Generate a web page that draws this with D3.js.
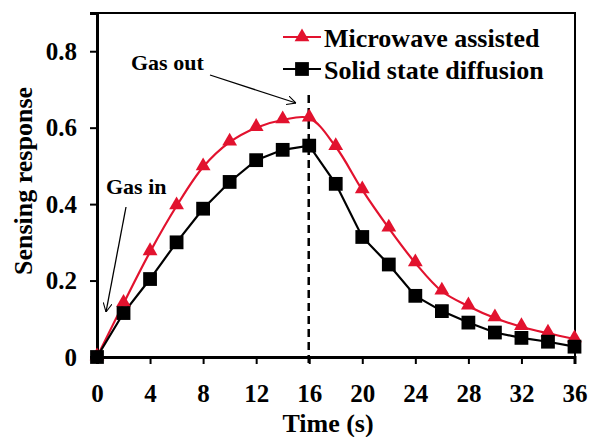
<!DOCTYPE html>
<html>
<head>
<meta charset="utf-8">
<script src="https://cdn.jsdelivr.net/npm/d3@7"></script>
<style>
  body { margin: 0; background: #fff; }
  #chart { width: 590px; height: 437px; }
  text { font-family: 'Liberation Serif', 'Times New Roman', serif; font-weight: bold; }
</style>
</head>
<body>
<div id="chart"></div>
<script>
const times = [0, 2, 4, 6, 8, 10, 12, 14, 16, 18, 20, 22, 24, 26, 28, 30, 32, 34, 36]
const microwave = [0, 0.14, 0.275, 0.395, 0.497, 0.562, 0.6, 0.62, 0.625, 0.55, 0.437, 0.337, 0.246, 0.172, 0.133, 0.102, 0.079, 0.062, 0.047]
const solidState = [0, 0.115, 0.204, 0.3, 0.388, 0.458, 0.515, 0.542, 0.553, 0.453, 0.314, 0.242, 0.16, 0.12, 0.09, 0.064, 0.05, 0.04, 0.027]
const xTicks = [0, 4, 8, 12, 16, 20, 24, 28, 32, 36]
const yTicks = [0, 0.2, 0.4, 0.6, 0.8]
const seriesNames = ['Microwave assisted', 'Solid state diffusion']
const gasOutTime = 16

const width = 590
const height = 437
const margin = { top: 13, right: 15, bottom: 80, left: 97 }
const boundWidth = width - margin.left - margin.right
const boundHeight = height - margin.top - margin.bottom
const red = '#e2122e'

const svg = d3.select('#chart')
  .append('svg')
  .attr('width', width)
  .attr('height', height)
  .attr('viewBox', [0, 0, width, height])

const defs = svg.append('defs')
defs.append('marker')
  .attr('id', 'arrow')
  .attr('viewBox', '0 0 10 10')
  .attr('refX', 10)
  .attr('refY', 5)
  .attr('markerWidth', 9)
  .attr('markerHeight', 9)
  .attr('markerUnits', 'userSpaceOnUse')
  .attr('orient', 'auto')
  .append('path')
  .attr('d', 'M0,0 L10,5 L0,10')
  .attr('fill', 'none')
  .attr('stroke', 'black')
  .attr('stroke-width', 1.2)

const bounds = svg.append('g')
  .attr('transform', `translate(${margin.left}, ${margin.top})`)

const x = d3.scaleLinear().domain([0, 36]).range([0, boundWidth - 0.5])
const y = d3.scaleLinear().domain([0, 0.9]).range([boundHeight, 0])

// frame
bounds.append('rect')
  .attr('width', boundWidth)
  .attr('height', boundHeight)
  .attr('fill', 'none')
  .attr('stroke', 'black')
  .attr('stroke-width', 2)

// axes
const xAxis = bounds.append('g')
  .attr('transform', `translate(0, ${boundHeight})`)
  .call(d3.axisBottom(x).tickValues(xTicks).tickSize(7).tickPadding(20).tickFormat(d3.format('d')))
xAxis.select('.domain').attr('stroke-width', 3)
xAxis.selectAll('.tick line').attr('stroke-width', 2)
xAxis.selectAll('.tick text').attr('font-size', 25).attr('fill', 'black')

const yAxis = bounds.append('g')
  .call(d3.axisLeft(y).tickValues(yTicks).tickSize(7).tickPadding(13).tickFormat(d => d === 0 ? '0' : d3.format('.1f')(d)))
yAxis.select('.domain').attr('stroke-width', 3)
yAxis.selectAll('.tick line').attr('stroke-width', 2)
yAxis.selectAll('.tick text').attr('font-size', 25).attr('fill', 'black')

// axis titles
svg.append('text')
  .attr('x', 328)
  .attr('y', 432)
  .attr('text-anchor', 'middle')
  .attr('font-size', 26)
  .text('Time (s)')

svg.append('text')
  .attr('transform', 'translate(32, 181) rotate(-90)')
  .attr('text-anchor', 'middle')
  .attr('font-size', 26)
  .text('Sensing response')

// gas out dashed line
bounds.append('line')
  .attr('x1', x(gasOutTime) - 0.5)
  .attr('x2', x(gasOutTime) - 0.5)
  .attr('y1', 82)
  .attr('y2', boundHeight + 6)
  .attr('stroke', 'black')
  .attr('stroke-width', 2.5)
  .attr('stroke-dasharray', '8,5')

// series
const microData = times.map((t, i) => [t, microwave[i]])
const solidData = times.map((t, i) => [t, solidState[i]])

bounds.append('path')
  .datum(microData)
  .attr('fill', 'none')
  .attr('stroke', red)
  .attr('stroke-width', 2.2)
  .attr('d', d3.line().x(d => x(d[0])).y(d => y(d[1])).curve(d3.curveCatmullRom.alpha(0.5)))

bounds.append('path')
  .datum(solidData)
  .attr('fill', 'none')
  .attr('stroke', 'black')
  .attr('stroke-width', 2.2)
  .attr('d', d3.line().x(d => x(d[0])).y(d => y(d[1])))

const triangle = d3.symbol().type(d3.symbolTriangle).size(95)
const square = d3.symbol().type(d3.symbolSquare).size(190)

bounds.selectAll('.tri')
  .data(microData)
  .join('path')
  .attr('class', 'tri')
  .attr('transform', d => `translate(${x(d[0])}, ${y(d[1]) - 1})`)
  .attr('d', triangle)
  .attr('fill', red)

bounds.selectAll('.sq')
  .data(solidData)
  .join('path')
  .attr('class', 'sq')
  .attr('transform', d => `translate(${x(d[0])}, ${y(d[1])})`)
  .attr('d', square)
  .attr('fill', 'black')

// annotations
svg.append('text')
  .attr('x', 131)
  .attr('y', 70)
  .attr('font-size', 22)
  .text('Gas out')
svg.append('line')
  .attr('x1', 210).attr('y1', 75)
  .attr('x2', 296).attr('y2', 103)
  .attr('stroke', 'black')
  .attr('stroke-width', 1.3)
  .attr('marker-end', 'url(#arrow)')

svg.append('text')
  .attr('x', 106)
  .attr('y', 194)
  .attr('font-size', 22)
  .text('Gas in')
svg.append('line')
  .attr('x1', 126).attr('y1', 207)
  .attr('x2', 106).attr('y2', 312)
  .attr('stroke', 'black')
  .attr('stroke-width', 1.3)
  .attr('marker-end', 'url(#arrow)')

// legend
const legend = svg.append('g')
const legendItems = [
  { name: seriesNames[0], color: red, symbol: triangle, y: 37 },
  { name: seriesNames[1], color: 'black', symbol: square, y: 69 }
]
legendItems.forEach(item => {
  legend.append('line')
    .attr('x1', 283).attr('x2', 321)
    .attr('y1', item.y).attr('y2', item.y)
    .attr('stroke', item.color)
    .attr('stroke-width', 2.2)
  legend.append('path')
    .attr('transform', `translate(302, ${item.y})`)
    .attr('d', item.symbol)
    .attr('fill', item.color)
  legend.append('text')
    .attr('x', 324)
    .attr('y', item.y + 10)
    .attr('font-size', 26)
    .text(item.name)
})
</script>
</body>
</html>
